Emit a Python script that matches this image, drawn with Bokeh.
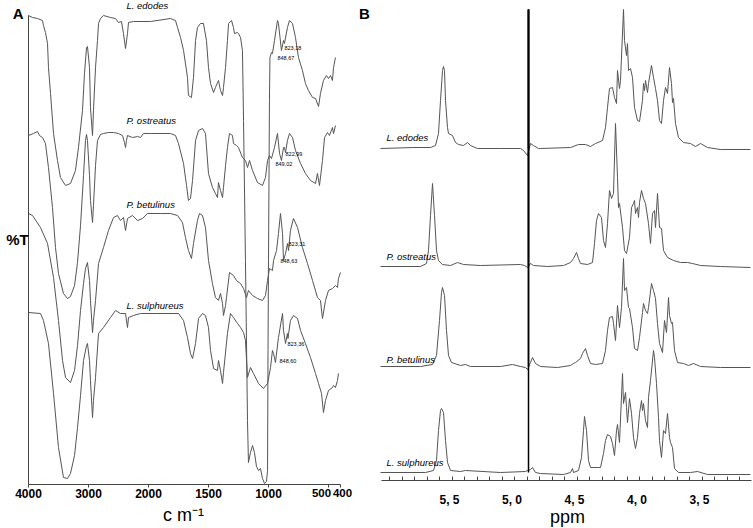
import numpy as np
from bokeh.plotting import figure
from bokeh.models import Range1d, FixedTicker, Label
from bokeh.layouts import row
from bokeh.embed import file_html
from bokeh.resources import INLINE

FONT = "Liberation Sans"
LINE = "#555555"
AXIS = "#444444"

# ---------------- FTIR data (panel A) ----------------
ir_names = ["L. edodes", "P. ostreatus", "P. betulinus", "L. sulphureus"]

ir_edodes_wn = [4000,3933,3850,3767,3750,3717,3683,3667,3633,3583,3517,3467,3383,3300,3217,3167,3100,3067,3033,3017,2983,2967,2933,2917,2883,2850,2833,2800,2750,2633,2550,2500,2450,2417,2383,2350,2333,2250,1983,1817,1775,1758,1733,1708,1675,1667,1642,1625,1608,1592,1567,1542,1517,1500,1483,1458,1442,1425,1417,1400,1383,1375,1358,1342,1333,1308,1292,1283,1258,1250,1233,1217,1208,1192,1175,1167,1150,1133,1117,1100,1083,1067,1050,1033,1017,1008,1004,1000,992,988,975,967,950,925,917,892,875,867,842,825,800,775,750,717,692,667,633,608,583,567,542,517,500,483,467,458,442]
ir_edodes_t = [469,467,466,464,459,452,441,417,391,351,324,307,299,301,314,337,374,411,437,438,417,377,349,374,417,444,461,466,469,467,466,462,463,451,436,451,462,463,463,466,464,457,447,434,407,389,387,407,444,457,461,461,444,417,401,392,397,402,404,394,389,397,417,444,461,464,457,451,452,451,447,434,364,224,64,22,32,39,32,18,14,16,6,1,3,14,134,224,384,427,432,431,444,464,461,434,444,441,457,464,461,447,427,414,401,394,387,386,378,391,404,409,406,409,404,417,427]

ir_ostreatus_wn = [4000,3917,3850,3817,3767,3717,3667,3600,3550,3500,3417,3350,3300,3233,3183,3133,3083,3050,3033,3017,2983,2967,2933,2917,2883,2850,2800,2750,2667,2583,2500,2433,2400,2383,2367,2350,2267,2183,2133,2083,1983,1817,1775,1750,1708,1683,1667,1650,1633,1608,1583,1550,1525,1500,1467,1442,1425,1417,1400,1383,1375,1358,1342,1325,1300,1292,1267,1250,1217,1192,1175,1158,1133,1092,1050,1025,1008,992,975,950,925,908,892,875,867,858,842,825,800,775,733,692,650,608,592,575,550,533,508,492,467,458,442]
ir_ostreatus_t = [349,351,353,349,347,341,317,277,237,211,191,186,188,199,222,259,309,344,350,344,309,284,262,279,319,344,350,351,352,352,351,349,342,337,344,349,347,348,347,351,351,351,349,341,321,299,284,286,304,344,354,356,351,311,297,291,287,302,294,287,297,319,337,351,349,341,339,337,327,324,317,324,314,302,299,307,324,329,326,337,351,331,324,337,337,332,344,351,347,334,321,311,304,301,311,299,324,347,352,349,357,351,359]

ir_betulinus_wn = [4000,3933,3800,3683,3583,3500,3433,3383,3300,3233,3183,3133,3083,3050,3017,2983,2967,2933,2917,2883,2833,2750,2667,2583,2517,2467,2417,2383,2350,2267,2183,2100,2017,1900,1817,1758,1717,1692,1667,1642,1625,1592,1575,1550,1525,1500,1467,1442,1417,1400,1383,1375,1358,1350,1325,1292,1267,1233,1208,1183,1167,1133,1092,1050,1025,1008,992,967,958,933,917,900,883,875,858,842,833,817,792,758,717,675,633,592,567,550,525,500,467,442,425,417,400]
ir_betulinus_t = [271,269,257,241,207,164,124,107,102,114,139,174,201,216,222,204,184,152,164,184,221,237,254,267,269,264,267,254,266,269,264,266,271,271,271,269,262,247,234,226,241,264,271,269,257,224,201,187,184,191,181,169,179,187,212,209,204,201,196,187,194,189,186,184,189,204,216,214,224,234,251,271,251,224,231,241,234,254,266,257,237,221,204,187,184,166,184,194,196,199,197,206,212]

ir_sulphureus_wn = [4000,3800,3750,3667,3583,3500,3417,3350,3300,3233,3183,3133,3083,3033,3017,2983,2967,2933,2917,2883,2833,2750,2633,2550,2467,2383,2350,2333,2250,2133,1750,1708,1675,1650,1633,1608,1583,1550,1525,1500,1483,1458,1425,1417,1400,1383,1375,1342,1317,1292,1258,1233,1208,1192,1175,1150,1125,1083,1042,1008,983,967,958,942,917,883,875,858,842,838,817,792,758,733,692,650,608,583,558,542,525,500,467,458,442,425,417]
ir_sulphureus_t = [172,171,164,141,91,37,7,6,11,29,57,89,124,139,141,124,104,67,84,107,151,157,167,174,171,171,157,167,169,171,171,164,147,131,126,141,166,171,169,157,134,116,114,124,114,101,112,151,171,167,161,157,152,144,107,117,111,101,96,101,117,134,131,122,147,171,154,141,151,146,164,169,166,154,141,127,111,101,91,72,84,94,97,99,97,104,111]

ir_ticks = [4000, 3000, 2000, 1500, 1000, 500, 400]
ir_peak_text = [["823,18", "848,67"], ["822,99", "849,02"], ["823,31", "848,63"], ["823,36", "848,60"]]

# ---------------- 1H NMR data (panel B) ----------------
nmr_edodes_ppm = [5.972,5.708,5.572,5.532,5.508,5.492,5.476,5.468,5.460,5.452,5.436,5.428,5.396,5.372,5.348,5.308,5.276,5.252,5.196,5.012,4.852,4.828,4.796,4.772,4.748,4.708,4.692,4.452,4.388,4.332,4.292,4.252,4.196,4.172,4.156,4.140,4.116,4.100,4.084,4.076,4.060,4.052,4.028,4.020,4.004,3.996,3.988,3.972,3.956,3.940,3.916,3.900,3.876,3.868,3.860,3.852,3.836,3.828,3.804,3.788,3.772,3.756,3.740,3.724,3.708,3.692,3.676,3.660,3.644,3.636,3.628,3.612,3.588,3.548,3.492,3.452,3.412,3.356,3.252,3.012]
nmr_edodes_i = [332,333,333,335,347,380,410,414,410,380,353,347,345,338,336,335,338,335,332,332,332,330,325,337,335,332,332,333,336,336,334,337,340,353,373,392,393,383,377,410,392,400,471,440,425,437,410,412,403,373,360,359,380,397,390,400,388,397,415,403,392,380,360,357,380,393,387,413,397,378,382,357,343,338,337,334,337,333,331,331]

nmr_ostreatus_ppm = [5.972,5.652,5.604,5.588,5.572,5.556,5.540,5.524,5.508,5.476,5.412,5.356,5.308,5.172,4.852,4.820,4.796,4.772,4.748,4.636,4.508,4.452,4.428,4.404,4.388,4.372,4.316,4.276,4.260,4.244,4.228,4.204,4.188,4.172,4.156,4.140,4.124,4.108,4.092,4.076,4.068,4.060,4.036,4.020,4.004,3.980,3.964,3.948,3.940,3.932,3.916,3.908,3.900,3.884,3.868,3.852,3.828,3.812,3.796,3.780,3.772,3.756,3.748,3.740,3.724,3.708,3.676,3.628,3.572,3.516,3.476,3.412,3.252,3.012]
nmr_ostreatus_i = [214,214,217,230,265,297,265,230,220,216,215,218,216,215,216,215,213,217,215,214,215,218,222,228,222,217,216,218,237,260,267,263,240,233,257,290,282,287,357,303,273,277,253,230,227,243,273,277,280,267,273,263,278,290,282,277,257,237,267,270,253,287,270,253,252,230,223,220,218,218,217,215,214,213]

nmr_betulinus_ppm = [5.972,5.652,5.556,5.524,5.500,5.484,5.476,5.460,5.444,5.428,5.404,5.332,5.292,5.252,5.012,4.916,4.852,4.812,4.796,4.772,4.756,4.732,4.692,4.556,4.452,4.428,4.412,4.372,4.356,4.332,4.316,4.292,4.252,4.196,4.172,4.156,4.140,4.116,4.108,4.092,4.076,4.060,4.044,4.028,4.020,4.004,3.988,3.980,3.956,3.940,3.916,3.900,3.876,3.868,3.852,3.836,3.828,3.804,3.788,3.772,3.756,3.740,3.716,3.700,3.684,3.668,3.660,3.644,3.636,3.620,3.596,3.548,3.508,3.468,3.412,3.252,3.012]
nmr_betulinus_i = [114,114,116,125,160,188,193,185,150,125,118,115,116,114,114,116,114,113,111,118,123,117,114,113,115,117,118,122,127,132,125,117,116,117,130,150,163,164,157,140,175,153,173,222,190,193,173,172,153,132,130,143,168,177,170,167,173,197,190,182,157,137,128,160,148,183,165,157,158,130,118,117,115,117,114,113,113]

nmr_sulphureus_ppm = [5.972,5.612,5.548,5.524,5.508,5.492,5.484,5.468,5.452,5.436,5.412,5.332,5.292,5.012,4.812,4.796,4.772,4.756,4.732,4.692,4.508,4.452,4.436,4.428,4.388,4.364,4.348,4.340,4.324,4.308,4.292,4.236,4.212,4.188,4.172,4.156,4.132,4.116,4.100,4.084,4.076,4.060,4.036,4.028,4.012,4.004,3.996,3.980,3.964,3.948,3.932,3.916,3.900,3.884,3.876,3.868,3.852,3.836,3.828,3.812,3.788,3.780,3.764,3.748,3.740,3.724,3.708,3.692,3.676,3.660,3.652,3.636,3.620,3.588,3.492,3.436,3.356,3.012]
nmr_sulphureus_i = [8,8,10,20,50,70,72,68,40,18,10,9,10,8,9,10,11,13,8,7,6,8,12,8,10,23,50,64,50,20,13,13,13,27,40,46,44,37,25,50,56,38,107,77,88,73,58,82,67,43,32,43,67,80,70,77,60,53,83,100,130,123,97,63,40,23,50,47,67,43,38,33,12,8,8,9,6,6]

nmr_baselines = [332, 214, 114, 8]
nmr_hdo_ppm = 4.788
nmr_hdo_top = 471
nmr_tick_ppm = [5.5, 5.0, 4.5, 4.0, 3.5]
nmr_tick_labels = ["5, 5", "5, 0", "4, 5", "4, 0", "3, 5"]
nmr_minor_ppm = [3.1, 3.2, 3.3, 3.4, 3.6, 3.7, 3.8, 3.9, 4.1, 4.2, 4.3, 4.4, 4.6, 4.7, 4.8, 4.9,
                 5.1, 5.2, 5.3, 5.4, 5.6, 5.7, 5.8, 5.9]


def ir_axis(w):
    """Broken wavenumber axis: 4000-2000 cm-1 drawn at half the scale of 2000-400."""
    w = np.asarray(w, dtype=float)
    return np.where(w >= 2000, (4000.0 - w) / 2.0, 1000.0 + (2000.0 - w))


def u(w):
    return float(ir_axis([w])[0])


def pair(a, b):
    n = min(len(a), len(b))
    return list(a[:n]), list(b[:n])


def lab(p, x, y, text, size, style="normal", align="center", x_offset=0):
    p.add_layout(Label(x=x, y=y, x_offset=x_offset, text=text, text_font=FONT,
                       text_font_style=style, text_font_size=size, text_align=align,
                       text_baseline="middle", text_color="black"))


# ---------------- Panel A ----------------
pA = figure(width=378, height=528, output_backend="svg", toolbar_location=None,
            x_range=Range1d(-233.33, 2916.67), y_range=Range1d(-44, 484),
            min_border=0, min_border_left=0, min_border_right=0,
            min_border_top=0, min_border_bottom=0)
pA.grid.visible = False
pA.outline_line_color = None
pA.background_fill_color = "white"
pA.border_fill_color = "white"

ir_series = [(ir_edodes_wn, ir_edodes_t), (ir_ostreatus_wn, ir_ostreatus_t),
             (ir_betulinus_wn, ir_betulinus_t), (ir_sulphureus_wn, ir_sulphureus_t)]
for wn, t in ir_series:
    wn, t = pair(wn, t)
    pA.line(list(ir_axis(wn)), t, line_color=LINE, line_width=1)

xa = pA.xaxis[0]
tick_u = [u(w) for w in ir_ticks]
xa.fixed_location = 0
xa.bounds = (0, 2600)
xa.ticker = FixedTicker(ticks=tick_u, minor_ticks=[])
xa.major_label_overrides = {tu: (str(w) if w > 500 else "") for tu, w in zip(tick_u, ir_ticks)}
xa.major_label_text_font = FONT
xa.major_label_text_font_style = "bold"
xa.major_label_text_font_size = "12px"
xa.major_label_text_color = "black"
xa.major_label_standoff = 1
xa.major_tick_out = 3
xa.major_tick_in = 0
xa.axis_line_color = AXIS
xa.major_tick_line_color = AXIS

ya = pA.yaxis[0]
ya.fixed_location = 0
ya.bounds = (0, 469)
ya.ticker = FixedTicker(ticks=[], minor_ticks=[])
ya.axis_line_color = AXIS
ya.major_tick_line_color = None
ya.minor_tick_line_color = None

for w, off in zip([500, 400], [-7, 2]):
    lab(pA, u(w), -8, str(w), "11.5px", "bold", x_offset=off)

label_wn = 2367
label_t = [479, 364, 280, 179]
for name, t in zip(ir_names, label_t):
    lab(pA, u(label_wn), t, name, "9.5px", "italic", "left")

peak_lab_wn = [[867, 925], [858, 942], [833, 900], [842, 908]]
peak_lab_t = [[437, 427], [331, 321], [241, 224], [141, 124]]
for texts, wns, ts in zip(ir_peak_text, peak_lab_wn, peak_lab_t):
    for txt, w, t in zip(texts, wns, ts):
        lab(pA, u(w), t, txt, "5.5px", "normal", "left")

lab(pA, -92, 245, "%T", "15px", "bold")
lab(pA, -87, 471, "A", "15px", "bold")
lab(pA, 2800, 471, "B", "15px", "bold")
lab(pA, 1292, -30, "c m\u207b\u00b9", "18px")

# ---------------- Panel B ----------------
pB = figure(width=375, height=528, output_backend="svg", toolbar_location=None,
            x_range=Range1d(5.988, 2.988), y_range=Range1d(-48, 480),
            min_border=0, min_border_left=0, min_border_right=0,
            min_border_top=0, min_border_bottom=0)
pB.grid.visible = False
pB.outline_line_color = None
pB.background_fill_color = "white"
pB.border_fill_color = "white"
pB.yaxis.visible = False

nmr_series = [(nmr_edodes_ppm, nmr_edodes_i), (nmr_ostreatus_ppm, nmr_ostreatus_i),
              (nmr_betulinus_ppm, nmr_betulinus_i), (nmr_sulphureus_ppm, nmr_sulphureus_i)]
for ppm, inten in nmr_series:
    ppm, inten = pair(ppm, inten)
    pB.line(ppm, inten, line_color=LINE, line_width=1)

pB.segment(x0=[nmr_hdo_ppm] * 4, y0=nmr_baselines, x1=[nmr_hdo_ppm] * 4,
           y1=[nmr_hdo_top] * 4, line_color="black", line_width=1.5)

xb = pB.xaxis[0]
xb.fixed_location = 0
xb.bounds = (3.004, 5.964)
xb.ticker = FixedTicker(ticks=nmr_tick_ppm, minor_ticks=nmr_minor_ppm)
xb.major_label_overrides = {t: "" for t in nmr_tick_ppm}
xb.major_tick_in = 4
xb.major_tick_out = 0
xb.minor_tick_in = 4
xb.minor_tick_out = 0
xb.axis_line_color = AXIS
xb.major_tick_line_color = AXIS
xb.minor_tick_line_color = AXIS

for t, l in zip(nmr_tick_ppm, nmr_tick_labels):
    lab(pB, t, -19, l, "12px", "bold", "left")

nmr_label_ppm = 5.924
nmr_label_i = [343, 224, 121, 18]
for name, y in zip(ir_names, nmr_label_i):
    lab(pB, nmr_label_ppm, y, name, "9.5px", "italic", "left")

lab(pB, 4.476, -36, "ppm", "18px")

layout = row(pA, pB)
open("out.html", "w").write(file_html(layout, INLINE))
